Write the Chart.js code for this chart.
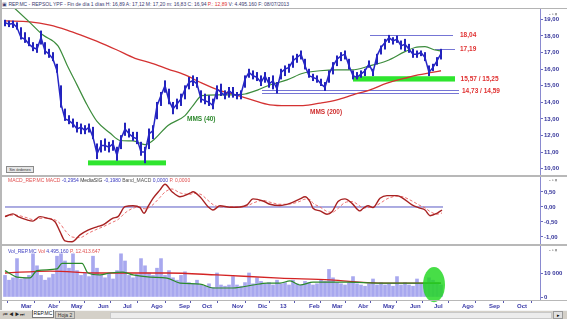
<!DOCTYPE html>
<html><head><meta charset="utf-8">
<script src="https://cdn.jsdelivr.net/npm/chart.js@4.4.0/dist/chart.umd.min.js"></script>
<style>
body{margin:0;width:567px;height:319px;overflow:hidden;position:relative;background:#fff;font-family:"Liberation Sans",Arial,sans-serif;}
#c{position:absolute;left:0;top:0;}
.ov{position:absolute;white-space:nowrap;pointer-events:none;}
.hdr{font-size:5px;line-height:6px;}
.btn{font-size:5px;color:#555;letter-spacing:1px;}
</style></head><body>
<canvas id="c" width="567" height="319"></canvas>
<!-- frame -->
<div class="ov" style="left:0;top:0;width:567px;height:8px;background:#fff;border-bottom:1px solid #b4b4b4"></div>
<div class="ov hdr" style="left:2px;top:1px;color:#3a3a70">▣ REP.MC - REPSOL YPF - Fin de día 1 días H: 16,89 A: 17,12 M: 17,20 m: 16,83 C: 16,94 <span style="color:#e03030">P.: 12,89</span> V: 4.495.160 F: 08/07/2013</div>
<div class="ov" style="left:0;top:0;width:2px;height:310px;background:#b8b8b8"></div>
<div class="ov" style="left:0;top:175px;width:567px;height:2px;background:#b8b8b8"></div>
<div class="ov" style="left:0;top:244px;width:567px;height:2px;background:#b8b8b8"></div>
<div class="ov" style="left:0;top:300px;width:567px;height:1px;background:#b8b8b8"></div>
<div class="ov btn" style="left:549px;top:11px">‐▫×</div>
<div class="ov btn" style="left:549px;top:177px">‐▫×</div>
<div class="ov btn" style="left:549px;top:247px">‐▫×</div>
<div class="ov hdr" style="left:8px;top:177px;color:#e05050">MACD_REP.MC MACD <span style="color:#3a3ac0">-0,2954</span> <span style="color:#333">MediaSIG</span> <span style="color:#3a3ac0">-0,1980</span> <span style="color:#555">Band_MACD</span> <span style="color:#3a3ac0">0,0000</span> <span style="color:#e05050">P. 0,0000</span></div>
<div class="ov hdr" style="left:8px;top:248px;color:#4040c0">Vol_REP.MC <span style="color:#e05050">Vol</span> 4.495.160 <span style="color:#e05050">P. 12.413.647</span></div>
<div class="ov" style="left:6px;top:166px;width:26px;height:5px;border:1px solid #8a8a8a;background:#e6e6e6;font-size:4px;line-height:5px;color:#333;text-align:center">Sin órdenes</div>
<!-- tab bar -->
<div class="ov" style="left:0;top:310px;width:567px;height:9px;background:#d4d0c8;border-top:1px solid #f4f4f4"></div>
<div class="ov" style="left:3px;top:311px;font-size:5px;line-height:7px;color:#222">⏮ ◀ ▶ ⏭</div>
<div class="ov" style="left:32px;top:310px;width:20px;height:7px;background:#fff;border:1px solid #777;border-top:none;font-size:5px;line-height:7px;text-align:center;color:#111">REP.MC</div>
<div class="ov" style="left:55px;top:311px;width:18px;height:6px;border:1px solid #999;font-size:5px;line-height:6px;text-align:center;color:#333">Hoja 2</div>
<div class="ov" style="left:110px;top:312px;width:440px;height:5px;background:#ececec;border:1px solid #c8c8c8"></div>
<div class="ov" style="left:553px;top:311px;width:8px;height:6px;background:#e0e0e0;border:1px solid #999;font-size:5px;line-height:6px;text-align:center">▸</div>
<script>
// ---- categories: month tick labels and their positions on the sample axis ----
const monthLabels = ['Mar','Abr','May','Jun','Jul','Ago','Sep','Oct','Nov','Dic','13','Feb','Mar','Abr','May','Jun','Jul','Ago','Sep','Oct'];
const monthPos = [4,10.75,16.5,23.25,29.5,36.5,43.5,49.25,56.75,63.25,68.75,76,81.75,88.25,94.5,101.25,107.25,114.25,121,128];

// ---- price samples (every ~3 sessions), index 0..109 ----
const priceLow = [18.6,18.55,18.5,18.4,17.8,17.6,17.4,17.1,17.0,17.5,
16.9,16.7,16.5,15.8,13.7,12.9,12.7,12.5,12.2,12.1,
12.1,12.2,11.8,10.6,11.0,11.1,11.0,11.1,10.5,11.2,
12.0,11.9,11.7,11.5,10.8,10.35,11.2,11.8,13.0,13.8,
14.6,13.9,13.3,13.6,13.8,14.2,14.8,15.0,14.9,14.0,
13.9,13.8,13.6,14.2,14.4,14.2,14.3,14.3,14.2,14.2,
14.9,15.5,15.4,15.3,15.0,15.2,14.9,14.8,14.55,15.4,
15.6,15.8,16.1,16.4,16.6,16.0,15.5,15.3,15.2,15.0,
14.7,15.2,15.7,16.2,16.5,16.6,16.0,15.4,15.4,15.5,
15.6,16.1,15.6,16.3,16.9,17.2,17.6,17.5,17.6,17.2,
17.1,17.0,16.7,16.7,16.8,16.5,15.6,15.9,16.2,16.6];
const priceHigh = [18.95,18.9,18.9,18.8,18.5,18.2,17.9,17.6,17.5,18.3,
17.6,17.2,17.0,16.3,15.0,13.6,13.2,13.0,12.8,12.7,
12.6,12.7,12.5,11.5,11.7,11.8,11.6,11.7,11.3,12.0,
12.75,12.4,12.2,12.2,11.6,11.3,12.4,12.6,14.0,14.6,
15.3,14.8,14.0,14.2,14.5,15.0,15.5,15.6,15.5,14.7,
14.5,14.4,14.2,15.0,15.1,14.7,14.9,14.9,14.6,14.7,
15.6,16.0,15.9,15.8,15.6,15.8,15.5,15.6,15.2,16.0,
16.2,16.3,16.8,16.9,17.1,16.6,16.0,15.7,15.6,15.4,
15.2,15.9,16.4,16.8,17.0,17.1,16.6,15.9,15.8,15.9,
16.0,16.5,16.0,16.9,17.4,17.8,18.04,17.9,18.0,17.7,
17.8,17.5,17.2,17.1,17.1,17.0,16.2,16.3,16.7,17.2];
const priceClose = [18.8,18.7,18.75,18.5,17.9,17.8,17.5,17.3,17.2,17.9,
17.1,16.9,16.6,15.9,13.9,13.0,12.9,12.7,12.4,12.5,
12.3,12.5,11.9,10.9,11.4,11.4,11.3,11.5,10.8,11.8,
12.4,12.1,11.9,11.8,11.0,11.0,12.1,12.3,13.8,14.4,
15.0,14.1,13.6,13.9,14.2,14.8,15.2,15.3,15.1,14.2,
14.1,14.0,13.8,14.8,14.6,14.4,14.7,14.5,14.4,14.5,
15.4,15.8,15.6,15.5,15.2,15.6,15.1,15.3,14.8,15.8,
16.0,16.1,16.5,16.7,16.9,16.2,15.6,15.5,15.4,15.1,
14.9,15.7,16.2,16.6,16.8,16.9,16.2,15.6,15.5,15.7,
15.9,16.3,15.8,16.8,17.3,17.6,17.9,17.7,17.8,17.4,
17.5,17.2,16.9,16.9,17.0,16.7,15.8,16.1,16.5,16.94];

// ---- moving averages on price ----
const ma40K = [0,6.25,9.5,13.25,15.5,18,20.5,23,26.25,28.75,32,35,36.75,40.75,45,47,49.25,53.25,57.5,60,63.25,65.75,70.5,74.5,78.75,83,86.75,91.25,95.5,100,102.5,105,107.5,109];
const ma40V = [20.2,18.8,18.05,17.4,16.25,15.05,13.85,12.85,12.15,11.7,11.67,11.45,11.65,12.6,13.2,13.8,14.4,14.45,14.45,14.5,14.75,15.0,15.35,15.75,15.9,15.95,15.95,16.2,16.5,17.05,17.3,17.35,17.15,17.1];
const ma200K = [0,6.25,11.25,15.5,19.5,23.75,28,32.5,36.75,40.75,45,49.25,53.25,57.5,61.75,66.25,70.5,74.5,78.75,83,87,91.25,95.5,100,103.25,106.75,109];
const ma200V = [18.9,18.85,18.65,18.35,18.0,17.6,17.15,16.65,16.35,16.0,15.65,15.15,14.75,14.45,14.15,13.85,13.8,13.8,13.95,14.15,14.45,14.75,15.15,15.45,15.65,15.8,15.9];

// ---- MACD ----
const macdK = [0,2,3.25,5.5,7,8.75,10.5,12.5,13.75,15,16.75,18.75,20.75,23,24.5,27,28.25,30,32,33.75,34.75,35.75,37,38.75,40,41.75,43.75,46.25,47,48.75,50.75,52,53.75,56.25,58.75,60.5,62,64.5,66.25,68.75,71.25,73.75,75,76.25,77,78.75,80.5,81.75,83.25,85,86.75,88.75,89.5,90.75,92,93.75,95.5,98,99.5,101.75,103.75,105,106.25,108,109.25];
const macdV = [-0.32,-0.23,-0.32,-0.43,-0.47,-0.32,-0.37,-0.49,-0.82,-1.13,-1.16,-0.93,-0.77,-0.66,-0.6,-0.37,-0.32,0.01,0.04,-0.02,-0.21,0.01,0.29,0.57,0.76,0.51,0.34,0.46,0.51,0.34,0.01,-0.1,0.04,-0.01,0.0,0.07,0.27,0.2,0.09,0.05,0.12,0.27,0.34,0.18,-0.04,-0.13,-0.24,-0.16,0.18,0.27,0.12,-0.13,-0.05,0.04,-0.02,0.29,0.38,0.38,0.29,0.07,-0.04,-0.1,-0.29,-0.21,-0.1];
const signalV = [-0.30,-0.27,-0.28,-0.36,-0.42,-0.38,-0.37,-0.43,-0.55,-0.78,-1.0,-1.02,-0.88,-0.74,-0.66,-0.5,-0.42,-0.2,-0.04,0.0,-0.06,-0.04,0.08,0.32,0.5,0.6,0.47,0.42,0.45,0.43,0.22,0.08,0.0,0.01,0.0,0.03,0.13,0.22,0.16,0.09,0.1,0.19,0.26,0.25,0.13,0.0,-0.15,-0.18,-0.05,0.15,0.18,0.03,-0.03,-0.02,0.0,0.12,0.27,0.36,0.34,0.2,0.05,-0.03,-0.15,-0.24,-0.2];

// ---- volume ----
const volume = [9000,7000,8000,16000,7500,8000,9000,18000,13000,9000,
7000,8000,9500,17000,18000,15000,12000,18000,11000,9000,
10000,8500,17000,12000,9000,8000,10000,7500,11000,18000,
15000,9000,8000,9500,16000,13000,10000,9000,12000,16000,
9000,11000,8000,7000,9000,10500,6000,5500,7000,5000,
4500,5500,4000,10000,5000,4500,5000,8500,5000,4500,
6000,10000,5500,8000,6500,5500,6000,5000,7000,5500,
6000,5000,7000,5500,5000,6500,6000,5000,5500,7000,
6500,11500,8000,6000,5500,5000,6000,8500,5500,5000,
4500,5500,7500,5000,6000,5000,5500,4500,8500,5000,
6000,5000,4500,7500,5500,6000,8000,7000,6000,5000];
const volMaGK = [0,3,6.25,8,13,14.25,19.25,20.75,23.75,26.25,29.5,32,36.25,40.5,43.75,48.75,52,57,62,65.5,68.75,71.25,73.75,77,85.5,93.75,102,109];
const volMaGV = [11000,8300,8000,11000,11700,14000,14000,10000,9200,10000,10400,9200,8300,7900,5800,5400,3750,3750,5000,5800,5800,6700,5000,6200,6200,5800,5800,5800];
const volMaRK = [0,11.25,23.75,40.5,53,68.75,81.25,93.75,109];
const volMaRV = [10000,10800,10000,10000,9200,7900,7100,5800,5800];

// ---- chart annotations (price levels) ----
const zones = [{k0:20.75,k1:40.25,hi:10.5,lo:10.2},{k0:87,k1:112.5,hi:15.57,lo:15.25}];
const levels = [{v:18.04,k0:91.25,k1:112},{v:17.19,k0:107.5,k1:112.5},{v:14.73,k0:64.25,k1:113.5},{v:14.59,k0:64.25,k1:113.5}];
const notes = [
  {text:'18,04',k:113.75,v:18.04,color:'#e03030'},
  {text:'17,19',k:113.75,v:17.19,color:'#e03030'},
  {text:'15,57 / 15,25',k:113.9,v:15.41,color:'#e03030'},
  {text:'14,73 / 14,59',k:114.25,v:14.66,color:'#e03030'},
  {text:'MMS (40)',k:45.5,v:13.0,color:'#2f8a2f'},
  {text:'MMS (200)',k:76.25,v:13.42,color:'#d03030'}
];
const highlight = {k0:104.5,k1:110,v0:-2200,v1:12500};

const pts = (ks, vs) => ks.map((k,i)=>({x:k,y:vs[i]}));
const idx = priceClose.map((_,i)=>i);

const overlay = {
  id:'overlay',
  beforeDatasetsDraw(chart){
    const {ctx, scales:{x, yP}} = chart;
    ctx.save();
    ctx.fillStyle = '#2ee52e';
    zones.forEach(z=>{
      const x0=x.getPixelForValue(z.k0), x1=x.getPixelForValue(z.k1);
      const y0=yP.getPixelForValue(z.hi), y1=yP.getPixelForValue(z.lo);
      ctx.fillRect(x0,y0,x1-x0,y1-y0);
    });
    ctx.strokeStyle = '#7575d5'; ctx.lineWidth = 1;
    levels.forEach(l=>{
      const y=Math.round(yP.getPixelForValue(l.v))+0.5;
      ctx.beginPath(); ctx.moveTo(x.getPixelForValue(l.k0),y); ctx.lineTo(x.getPixelForValue(l.k1),y); ctx.stroke();
    });
    ctx.restore();
  },
  afterDatasetsDraw(chart){
    const {ctx, scales:{x, yP, yV}} = chart;
    ctx.save();
    const cx=(x.getPixelForValue(highlight.k0)+x.getPixelForValue(highlight.k1))/2;
    const rx=(x.getPixelForValue(highlight.k1)-x.getPixelForValue(highlight.k0))/2;
    const cy=(yV.getPixelForValue(highlight.v0)+yV.getPixelForValue(highlight.v1))/2;
    const ry=(yV.getPixelForValue(highlight.v0)-yV.getPixelForValue(highlight.v1))/2;
    ctx.fillStyle='rgba(30,215,30,0.82)';
    ctx.beginPath(); ctx.ellipse(cx,cy,rx,ry,0,0,Math.PI*2); ctx.fill();
    ctx.font='bold 6.5px "Liberation Sans", Arial';
    ctx.textBaseline='middle'; ctx.textAlign='left';
    notes.forEach(n=>{ ctx.fillStyle=n.color; ctx.fillText(n.text, x.getPixelForValue(n.k), yP.getPixelForValue(n.v)); });
    ctx.restore();
  }
};

const axisFont = {family:'"Liberation Sans", Arial', size:6, weight:'bold'};
const rightAxis = (extra) => Object.assign({
  position:'right', stack:'panels', offset:false,
  border:{display:true,color:'#8a8ad0'},
  grid:{drawOnChartArea:false, drawTicks:true, tickLength:3, color:'#6a6ac0'},
  ticks:{font:axisFont, color:'#34349a', padding:1, autoSkip:false, maxRotation:0},
  afterFit(s){ s.width = 27; }
}, extra);

new Chart(document.getElementById('c'), {
  type:'line',
  data:{datasets:[
    {type:'line', data:idx.map(i=>({x:i,y:priceClose[i]})), yAxisID:'yP', borderColor:'#2626c6', borderWidth:1.5, pointRadius:0, order:1},
    {type:'bar', data:idx.map(i=>({x:i,y:[priceLow[i],priceHigh[i]]})), yAxisID:'yP', backgroundColor:'#2323bb', barThickness:1.4, grouped:false, order:2},
    {type:'line', data:pts(ma40K,ma40V), yAxisID:'yP', borderColor:'#3c8c3c', borderWidth:1.2, pointRadius:0, cubicInterpolationMode:'monotone', order:3},
    {type:'line', data:pts(ma200K,ma200V), yAxisID:'yP', borderColor:'#d43232', borderWidth:1.3, pointRadius:0, cubicInterpolationMode:'monotone', order:4},
    {type:'line', data:pts(macdK,macdV), yAxisID:'yM', borderColor:'#a82222', borderWidth:1.4, pointRadius:0, cubicInterpolationMode:'monotone', order:1},
    {type:'line', data:pts(macdK,signalV), yAxisID:'yM', borderColor:'#ec7070', borderWidth:1, borderDash:[3,2], pointRadius:0, cubicInterpolationMode:'monotone', order:2},
    {type:'line', data:[{x:0,y:0},{x:109.5,y:0}], yAxisID:'yM', borderColor:'#5a5ac4', borderWidth:1, pointRadius:0, order:3},
    {type:'line', data:pts(volMaGK,volMaGV), yAxisID:'yV', borderColor:'#2b8a2b', borderWidth:1.2, pointRadius:0, cubicInterpolationMode:'monotone', order:1},
    {type:'line', data:pts(volMaRK,volMaRV), yAxisID:'yV', borderColor:'#d42424', borderWidth:1.3, pointRadius:0, cubicInterpolationMode:'monotone', order:2},
    {type:'bar', data:idx.map(i=>({x:i,y:volume[i]})), yAxisID:'yV', backgroundColor:'#a8a8ef', barThickness:3, grouped:false, order:5}
  ]},
  options:{
    responsive:false, animation:false, devicePixelRatio:1,
    layout:{padding:{top:9,left:3,right:0,bottom:9}},
    plugins:{legend:{display:false}, tooltip:{enabled:false}},
    scales:{
      x:{type:'linear', min:-0.5, max:133.75, offset:false,
        border:{display:true,color:'#b0b0b0'},
        grid:{drawOnChartArea:false, drawTicks:true, tickLength:3, color:'#5a5ab0'},
        ticks:{font:axisFont, color:'#3a3aa8', padding:0, align:'start', autoSkip:false, maxRotation:0,
          callback:(v,i)=>monthLabels[i]},
        afterBuildTicks(s){ s.ticks = monthPos.map(v=>({value:v})); },
        afterFit(s){ s.height = 10; }
      },
      yP: rightAxis({weight:1, stackWeight:167, min:9.56, max:19.62,
        afterBuildTicks(s){ s.ticks=[19,18,17,16,15,14,13,12,11,10].map(v=>({value:v})); },
        ticks:{font:axisFont,color:'#34349a',padding:1,autoSkip:false,callback:v=>v.toFixed(2).replace('.',',')}}),
      yM: rightAxis({weight:2, stackWeight:69, min:-1.267, max:1.033,
        afterBuildTicks(s){ s.ticks=[0.5,0,-0.5,-1].map(v=>({value:v})); },
        ticks:{font:axisFont,color:'#34349a',padding:1,autoSkip:false,callback:v=>v.toFixed(2).replace('.',',')}}),
      yV: rightAxis({weight:3, stackWeight:55, min:-1250, max:21667,
        afterBuildTicks(s){ s.ticks=[10000,0].map(v=>({value:v})); },
        ticks:{font:axisFont,color:'#34349a',padding:1,autoSkip:false,callback:v=>v===0?'0':'10 000'}})
    }
  },
  plugins:[overlay]
});
</script>
</body></html>
